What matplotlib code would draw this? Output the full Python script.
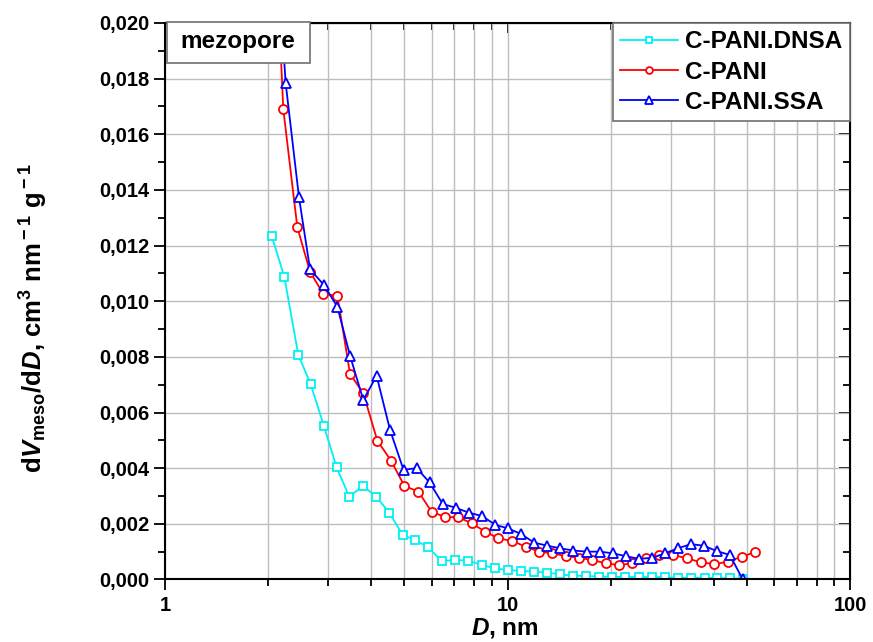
import matplotlib
matplotlib.use('Agg')
import matplotlib.pyplot as plt
from matplotlib.ticker import MultipleLocator, FuncFormatter, LogLocator, NullFormatter
from matplotlib.patches import Rectangle

plt.rcParams['font.family'] = ['Liberation Sans', 'DejaVu Sans']
plt.rcParams['font.weight'] = 'bold'
plt.rcParams['axes.labelweight'] = 'bold'
plt.rcParams['mathtext.fontset'] = 'custom'
plt.rcParams['mathtext.rm'] = 'Liberation Sans:bold'
plt.rcParams['mathtext.it'] = 'Liberation Sans:italic:bold'
plt.rcParams['mathtext.bf'] = 'Liberation Sans:bold'

# C-PANI.DNSA
d_dnsa = [2.05, 2.23, 2.45, 2.66, 2.91, 3.17, 3.45, 3.79, 4.13, 4.52, 4.94, 5.37, 5.87,
          6.42, 7.03, 7.69, 8.41, 9.2, 10.0, 10.93, 11.95, 13.07, 14.25, 15.5, 16.9,
          18.5, 20.2, 22.1, 24.2, 26.5, 28.9, 31.4, 34.4, 37.6, 40.9, 44.6, 48.7]
v_dnsa = [0.01234, 0.01088, 0.00807, 0.00703, 0.00552, 0.00403, 0.00298, 0.00336, 0.00298,
          0.0024, 0.0016, 0.00142, 0.00116, 0.00066, 0.0007, 0.00068, 0.00052, 0.0004,
          0.00034, 0.00031, 0.00028, 0.00024, 0.00019, 0.00013, 0.00013, 0.0001, 0.0001,
          0.00009, 0.00009, 0.00009, 0.00008, 0.00006, 0.00006, 0.00006, 0.00005,
          0.00004, 0.00003]

# C-PANI
d_pani = [2.05, 2.215, 2.434, 2.651, 2.899, 3.186, 3.469, 3.793, 4.168, 4.57, 5.0, 5.49,
          6.0, 6.57, 7.18, 7.86, 8.6, 9.4, 10.33, 11.3, 12.36, 13.52, 14.79, 16.12, 17.68,
          19.35, 21.16, 23.14, 25.32, 27.7, 30.5, 33.34, 36.7, 40.2, 43.95, 48.3, 52.8]
v_pani = [0.026, 0.0169, 0.01266, 0.01106, 0.01026, 0.0102, 0.00739, 0.00669, 0.00499,
          0.00427, 0.00336, 0.00316, 0.00244, 0.00224, 0.00224, 0.00202, 0.00172, 0.00148,
          0.00138, 0.00118, 0.001, 0.00094, 0.00084, 0.00078, 0.0007, 0.00058, 0.00052,
          0.00058, 0.00076, 0.00088, 0.00088, 0.00076, 0.00062, 0.00055, 0.00064,
          0.00082, 0.00098]

# C-PANI.SSA
d_ssa = [2.06, 2.251, 2.461, 2.651, 2.912, 3.186, 3.469, 3.793, 4.148, 4.54, 4.97, 5.43,
         5.92, 6.47, 7.05, 7.71, 8.43, 9.22, 10.01, 10.93, 11.97, 13.01, 14.23, 15.57,
         17.03, 18.62, 20.28, 22.13, 24.21, 26.47, 28.84, 31.4, 34.35, 37.48, 40.8, 44.6, 48.6]
v_ssa = [0.025, 0.01783, 0.01374, 0.01115, 0.01058, 0.0098, 0.00804, 0.00645, 0.00732,
         0.00537, 0.00394, 0.004, 0.00349, 0.00271, 0.00258, 0.0024, 0.00228, 0.00196,
         0.00184, 0.00164, 0.00132, 0.00122, 0.00112, 0.00104, 0.001, 0.001, 0.00094,
         0.00084, 0.00074, 0.00078, 0.00094, 0.00112, 0.00127, 0.00121, 0.00102,
         0.00088, 0.0]

fig = plt.figure(figsize=(8.73, 6.42), dpi=100)
ax = fig.add_axes([0.189, 0.0974, 0.7847, 0.8668])

ax.plot(d_dnsa, v_dnsa, '-s', color='#00f0f4', lw=1.3, ms=5.8, mew=1.3, mfc='white',
        label='C-PANI.DNSA')
ax.plot(d_pani, v_pani, '-o', color='#ff0000', lw=1.3, ms=6.5, mew=1.3, mfc='white',
        label='C-PANI')
ax.plot(d_ssa, v_ssa, '-^', color='#0000ff', lw=1.3, ms=7.5, mew=1.3, mfc='white',
        label='C-PANI.SSA')

ax.set_xscale('log')
ax.set_xlim(1, 100)
ax.set_ylim(0, 0.020)
ax.yaxis.set_major_locator(MultipleLocator(0.002))
ax.yaxis.set_minor_locator(MultipleLocator(0.001))
ax.yaxis.set_major_formatter(FuncFormatter(lambda v, p: '{:.3f}'.format(v).replace('.', ',')))
ax.xaxis.set_major_locator(LogLocator(base=10))
ax.xaxis.set_major_formatter(FuncFormatter(lambda v, p: '{:g}'.format(v)))
ax.xaxis.set_minor_locator(LogLocator(base=10, subs=range(2, 10)))
ax.xaxis.set_minor_formatter(NullFormatter())

ax.set_axisbelow(True)
ax.grid(which='both', axis='x', color='#bdbdbd', lw=1)
ax.grid(which='major', axis='y', color='#bdbdbd', lw=1)

for sp in ax.spines.values():
    sp.set_linewidth(1.5)
ax.tick_params(which='both', direction='out', width=1.3, labelsize=14.5, top=False, right=False)
ax.tick_params(which='major', length=8)
ax.tick_params(which='minor', length=5)
ax.tick_params(axis='x', pad=4)

top = ax.secondary_xaxis('top')
top.xaxis.set_major_locator(LogLocator(base=10))
top.xaxis.set_minor_locator(LogLocator(base=10, subs=range(2, 10)))
top.tick_params(which='both', direction='in', width=1.3, labeltop=False)
top.tick_params(which='major', length=7)
top.tick_params(which='minor', length=5)
right = ax.secondary_yaxis('right')
right.yaxis.set_major_locator(MultipleLocator(0.002))
right.yaxis.set_minor_locator(MultipleLocator(0.001))
right.tick_params(which='both', direction='in', width=1.3, labelright=False)
right.tick_params(which='major', length=8)
right.tick_params(which='minor', length=5)

ax.set_xlabel(r'$D$, nm', fontsize=17.5)
ax.xaxis.set_label_coords(0.496, -0.065)
ax.set_ylabel(r'd$V_{\rm meso}$/d$D$, cm$^{\rm 3}$ nm$^{\rm -1}$ g$^{\rm -1}$', fontsize=18.5)
ax.yaxis.set_label_coords(-0.168, 0.47)

ax.add_patch(Rectangle((0.003, 0.928), 0.209, 0.074, transform=ax.transAxes,
                       fc='white', ec='#707070', lw=1.2, zorder=5, clip_on=False))
ax.text(0.107, 0.966, 'mezopore', transform=ax.transAxes, ha='center', va='center',
        fontsize=17.5, fontweight='bold', zorder=6)

leg = ax.legend(loc='upper right', fontsize=17.5, markerscale=0.75, handlelength=2.4,
                handletextpad=0.3, labelspacing=0.3, borderaxespad=0.0, borderpad=0.3,
                fancybox=False, framealpha=1, edgecolor='#707070')
leg.get_frame().set_linewidth(1.2)
leg.set_zorder(7)

plt.savefig('out.png', dpi=100)
